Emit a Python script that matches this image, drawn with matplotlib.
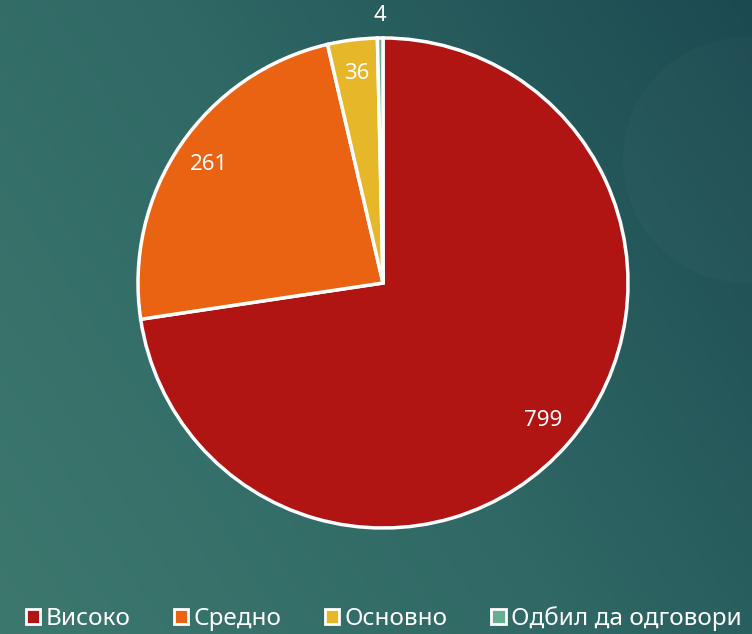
import numpy as np
import matplotlib.pyplot as plt
from matplotlib.colors import LinearSegmentedColormap
from matplotlib.patches import Circle

plt.rcParams['font.family'] = ['Noto Sans', 'DejaVu Sans']
plt.rcParams['font.weight'] = 'light'

# Data
categories = ['Високо', 'Средно', 'Основно', 'Одбил да одговори']
counts = [799, 261, 36, 4]
colors = ['#B01513', '#EA6312', '#E6B729', '#6AAC90']

W, H = 752, 634
fig = plt.figure(figsize=(W / 100, H / 100), dpi=100)

# Background gradient (lighter bottom-left, darker top-right)
bg = fig.add_axes([0, 0, 1, 1])
xx, yy = np.meshgrid(np.linspace(0, 1, 300), np.linspace(0, 1, 300))
grad = 0.65 * xx + 0.35 * (1 - yy)
cmap = LinearSegmentedColormap.from_list('bg', ['#3D786E', '#2F6865', '#1C4A51'])
bg.imshow(grad, cmap=cmap, extent=[0, W, 0, H], origin='upper', aspect='auto')
bg.add_patch(Circle((746, H - 160), 123, color='white', alpha=0.02, lw=0))
bg.set_xlim(0, W)
bg.set_ylim(0, H)
bg.axis('off')

# Pie
cx, cy, r = 383, H - 283, 245
lim = 1.15
side = 2 * r * lim
ax = fig.add_axes([(cx - side / 2) / W, (cy - side / 2) / H, side / W, side / H])
wedges, texts, autotexts = ax.pie(
    counts, colors=colors, startangle=90, counterclock=False,
    autopct=lambda p: '{:.0f}'.format(p * sum(counts) / 100),
    pctdistance=0.86,
    wedgeprops=dict(edgecolor='white', linewidth=2.5),
    textprops=dict(color='white', fontsize=16))
ax.set_xlim(-lim, lim)
ax.set_ylim(-lim, lim)
ax.set_aspect('equal')
ax.axis('off')

# smallest slice label sits outside the pie
w = wedges[-1]
mid = np.deg2rad((w.theta1 + w.theta2) / 2)
autotexts[-1].set_position((1.09 * np.cos(mid), 1.09 * np.sin(mid)))

leg = fig.legend(wedges, categories, loc='lower center', bbox_to_anchor=(0.51, -0.03),
                 ncol=4, frameon=False, fontsize=17.5, labelcolor='white',
                 handlelength=0.6, handleheight=0.6, handletextpad=0.2,
                 columnspacing=1.8)
for h in leg.legend_handles:
    h.set_linewidth(2)

fig.savefig('out.png', dpi=100)
